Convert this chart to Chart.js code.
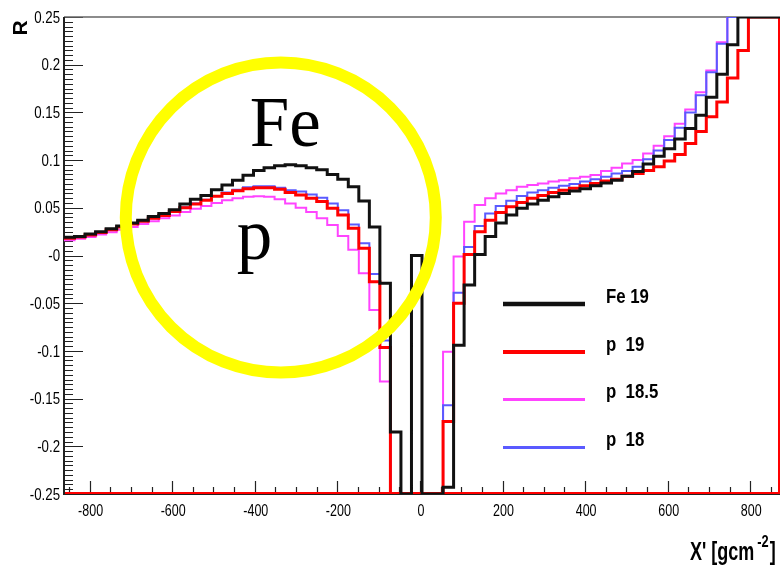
<!DOCTYPE html>
<html>
<head>
<meta charset="utf-8">
<script src="https://cdn.jsdelivr.net/npm/chart.js@4/dist/chart.umd.min.js"></script>
<style>
  html, body { margin: 0; padding: 0; background: #ffffff; }
  canvas { display: block; }
</style>
</head>
<body>
<canvas id="chart" width="780" height="573"></canvas>
<script>
// Histogram binning along X' (g/cm^2)
const xLow = -862;
const binWidth = 25.5;

// R per bin, one array per shower sample
const fe19 = [
  0.019, 0.020, 0.0225, 0.025, 0.028, 0.031, 0.034, 0.037, 0.041, 0.044,
  0.048, 0.054, 0.059, 0.063, 0.069, 0.074, 0.079, 0.084, 0.089, 0.092,
  0.094, 0.095, 0.094, 0.092, 0.090, 0.085, 0.080, 0.072, 0.057, 0.030,
  -0.029, -0.185, -0.25, 0.0, -0.25, -0.25, -0.243, -0.094, -0.031, 0.001,
  0.020, 0.034, 0.0425, 0.0495, 0.054, 0.058, 0.0615, 0.065, 0.0675, 0.070,
  0.073, 0.076, 0.079, 0.083, 0.088, 0.096, 0.104, 0.112, 0.122, 0.133,
  0.147, 0.166, 0.190, 0.221, 0.25, 0.25, 0.25, 0.25
];
const p19 = [
  0.018, 0.0195, 0.0215, 0.024, 0.027, 0.030, 0.033, 0.036, 0.039, 0.042,
  0.046, 0.050, 0.054, 0.058, 0.062, 0.065, 0.068, 0.070, 0.071, 0.071,
  0.0695, 0.066, 0.0635, 0.060, 0.0565, 0.0495, 0.0425, 0.0285, 0.0075, -0.0275,
  -0.0965, -0.25, -0.25, -0.25, -0.25, -0.25, -0.174, -0.050, 0.001, 0.025,
  0.037, 0.045, 0.051, 0.0555, 0.060, 0.063, 0.066, 0.0685, 0.0705, 0.073,
  0.0755, 0.078, 0.080, 0.083, 0.086, 0.089, 0.093, 0.099, 0.106, 0.1175,
  0.130, 0.1455, 0.161, 0.186, 0.215, 0.25, 0.25, 0.25
];
const p185 = [
  0.016, 0.0175, 0.0195, 0.022, 0.0245, 0.027, 0.030, 0.033, 0.036, 0.039,
  0.042, 0.0455, 0.049, 0.052, 0.055, 0.058, 0.060, 0.0615, 0.062, 0.0615,
  0.059, 0.0545, 0.050, 0.0455, 0.039, 0.032, 0.0205, 0.006, -0.0185, -0.057,
  -0.132, -0.25, -0.25, -0.25, -0.25, -0.25, -0.101, -0.001, 0.0355, 0.053,
  0.060, 0.065, 0.0685, 0.072, 0.074, 0.0755, 0.0775, 0.079, 0.081, 0.0825,
  0.0845, 0.0885, 0.092, 0.0965, 0.100, 0.107, 0.115, 0.125, 0.138, 0.153,
  0.171, 0.194, 0.2235, 0.25, 0.25, 0.25, 0.25, 0.25
];
const p18 = [
  0.018, 0.0195, 0.0215, 0.024, 0.027, 0.030, 0.033, 0.036, 0.039, 0.042,
  0.046, 0.0505, 0.0545, 0.0585, 0.0625, 0.066, 0.069, 0.0715, 0.0725, 0.0725,
  0.071, 0.0685, 0.067, 0.064, 0.0605, 0.0545, 0.0475, 0.0325, 0.0128, -0.0195,
  -0.089, -0.25, -0.25, -0.25, -0.25, -0.25, -0.157, -0.039, 0.009, 0.031,
  0.044, 0.052, 0.0575, 0.0625, 0.066, 0.0685, 0.071, 0.073, 0.075, 0.0775,
  0.080, 0.0825, 0.086, 0.0885, 0.093, 0.101, 0.110, 0.121, 0.134, 0.150,
  0.168, 0.192, 0.222, 0.25, 0.25, 0.25, 0.25, 0.25
];

const seriesLabels = ['Fe 19', 'p  19', 'p  18.5', 'p  18'];
const xTickValues = [-800, -600, -400, -200, 0, 200, 400, 600, 800];
const xTickLabels = ['-800', '-600', '-400', '-200', '0', '200', '400', '600', '800'];
const yTickValues = [-0.25, -0.2, -0.15, -0.1, -0.05, 0, 0.05, 0.1, 0.15, 0.2, 0.25];
const yTickLabels = ['-0.25', '-0.2', '-0.15', '-0.1', '-0.05', '-0', '0.05', '0.1', '0.15', '0.2', '0.25'];

const xRange = [xLow, xLow + binWidth * fe19.length];
const yRange = [-0.25, 0.25];

// turn per-bin values into left-edge points for a stepped outline
function histPoints(vals) {
  const pts = vals.map((v, i) => ({ x: xLow + i * binWidth, y: v }));
  pts.push({ x: xLow + vals.length * binWidth, y: vals[vals.length - 1] });
  return pts;
}

const SANS = "'Liberation Sans', Arial, Helvetica, sans-serif";

// narrow Helvetica look: draw text squeezed horizontally
function narrowText(ctx, text, x, y, font, align, squeeze) {
  ctx.save();
  ctx.font = font;
  ctx.textBaseline = 'middle';
  const w = ctx.measureText(text).width * squeeze;
  let left = x;
  if (align === 'right') left = x - w;
  else if (align === 'center') left = x - w / 2;
  ctx.translate(left, y);
  ctx.scale(squeeze, 1);
  ctx.textAlign = 'left';
  ctx.fillText(text, 0, 0);
  ctx.restore();
  return w;
}

const styles = [
  { color: '#111111', width: 3, legendWidth: 4.5, order: 0 },
  { color: '#ff0000', width: 3, legendWidth: 4, order: 1 },
  { color: '#ff44ff', width: 2, legendWidth: 3, order: 3 },
  { color: '#5a5aff', width: 2, legendWidth: 3, order: 2 }
];
const seriesData = [fe19, p19, p185, p18];

// frame with inner tick marks, labels, annotation and legend
const framePlugin = {
  id: 'frame',
  beforeDatasetsDraw(chart) {
    const { ctx, chartArea: a, scales: { x, y } } = chart;
    ctx.save();
    ctx.strokeStyle = '#222';
    ctx.lineWidth = 1.2;
    ctx.beginPath();
    for (let i = 0; i <= 100; i++) {
      const v = yRange[0] + i * 0.005;
      const py = Math.round(y.getPixelForValue(v)) + 0.5;
      const len = (i % 10 === 0) ? 19 : 9;
      ctx.moveTo(a.left, py);
      ctx.lineTo(a.left + len, py);
    }
    for (let v = -850; v <= 850; v += 50) {
      const px = Math.round(x.getPixelForValue(v)) + 0.5;
      const len = (v % 200 === 0) ? 13 : 7;
      ctx.moveTo(px, a.bottom);
      ctx.lineTo(px, a.bottom - len);
    }
    ctx.stroke();

    // top edge
    ctx.strokeStyle = '#666';
    ctx.lineWidth = 1.5;
    ctx.beginPath();
    ctx.moveTo(a.left, a.top);
    ctx.lineTo(a.right, a.top);
    ctx.stroke();
    // left and bottom axes
    ctx.strokeStyle = '#222';
    ctx.lineWidth = 2;
    ctx.beginPath();
    ctx.moveTo(a.left, a.top);
    ctx.lineTo(a.left, a.bottom);
    ctx.lineTo(a.right, a.bottom);
    ctx.stroke();
    // red outline along the floor and the closing edge
    ctx.strokeStyle = '#ff0000';
    ctx.lineWidth = 2;
    ctx.beginPath();
    ctx.moveTo(a.left + 1, a.bottom - 1);
    ctx.lineTo(a.right - 1, a.bottom - 1);
    ctx.lineTo(a.right - 1, a.top);
    ctx.stroke();

    // tick labels
    ctx.fillStyle = '#000';
    yTickValues.forEach((v, i) => {
      narrowText(ctx, yTickLabels[i], a.left - 4, y.getPixelForValue(v) + 1, '17px ' + SANS, 'right', 0.78);
    });
    xTickValues.forEach((v, i) => {
      narrowText(ctx, xTickLabels[i], x.getPixelForValue(v) + 1, a.bottom + 18, '16px ' + SANS, 'center', 0.78);
    });
    ctx.restore();
  },
  afterDatasetsDraw(chart) {
    const { ctx, scales: { x, y } } = chart;
    ctx.save();
    // highlight ring around the low-X' maximum
    const cx = x.getPixelForValue(-337), cy = y.getPixelForValue(0.0398);
    ctx.strokeStyle = '#ffff00';
    ctx.lineWidth = 12;
    ctx.beginPath();
    ctx.arc(cx, cy, 155, 0, Math.PI * 2);
    ctx.stroke();

    ctx.fillStyle = '#000';
    ctx.font = "71px 'Liberation Serif', 'Times New Roman', serif";
    ctx.textBaseline = 'alphabetic';
    ctx.textAlign = 'left';
    ctx.fillText('Fe', cx - 31, cy - 72);
    ctx.fillText('p', cx - 44, cy + 41);

    // legend
    const rows = [304, 352, 399.5, 447.5];
    seriesLabels.forEach((lab, i) => {
      ctx.strokeStyle = styles[i].color;
      ctx.lineWidth = styles[i].legendWidth;
      ctx.beginPath();
      ctx.moveTo(503, rows[i]);
      ctx.lineTo(585, rows[i]);
      ctx.stroke();
      ctx.fillStyle = '#000';
      narrowText(ctx, lab, 606, rows[i] - 7, 'bold 20px ' + SANS, 'left', 0.84);
    });
    ctx.restore();
  },
  afterDraw(chart) {
    const { ctx } = chart;
    ctx.save();
    ctx.fillStyle = '#000';
    // y title
    ctx.translate(27, 28);
    ctx.rotate(-Math.PI / 2);
    ctx.font = 'bold 21px ' + SANS;
    ctx.textAlign = 'center';
    ctx.textBaseline = 'alphabetic';
    ctx.fillText('R', 0, 0);
    ctx.restore();

    // x title with superscript exponent
    ctx.save();
    ctx.fillStyle = '#000';
    let px = 690;
    const mid = 553;
    px += narrowText(ctx, "X' [gcm", px, mid, 'bold 25px ' + SANS, 'left', 0.72) + 3;
    px += narrowText(ctx, '-2', px, mid - 10, 'bold 16px ' + SANS, 'left', 0.8) + 1;
    narrowText(ctx, ']', px, mid, 'bold 25px ' + SANS, 'left', 0.72);
    ctx.restore();
  }
};

new Chart(document.getElementById('chart'), {
  type: 'line',
  data: {
    datasets: seriesData.map((vals, i) => ({
      label: seriesLabels[i],
      data: histPoints(vals),
      borderColor: styles[i].color,
      borderWidth: styles[i].width,
      pointRadius: 0,
      fill: false,
      stepped: true,
      tension: 0,
      order: styles[i].order
    }))
  },
  options: {
    responsive: false,
    animation: false,
    devicePixelRatio: 1,
    layout: { padding: { top: 17, right: 0, bottom: 0, left: 0 } },
    plugins: { legend: { display: false }, tooltip: { enabled: false } },
    scales: {
      x: {
        type: 'linear',
        min: xRange[0],
        max: xRange[1],
        afterFit(s) { s.height = 79; },
        afterBuildTicks(s) { s.ticks = xTickValues.map(v => ({ value: v })); },
        grid: { display: false, drawTicks: false },
        border: { display: false },
        ticks: { display: false }
      },
      y: {
        type: 'linear',
        min: yRange[0],
        max: yRange[1],
        afterFit(s) { s.width = 64; },
        afterBuildTicks(s) { s.ticks = yTickValues.map(v => ({ value: v })); },
        grid: { display: false, drawTicks: false },
        border: { display: false },
        ticks: { display: false }
      }
    }
  },
  plugins: [framePlugin]
});
</script>
</body>
</html>
